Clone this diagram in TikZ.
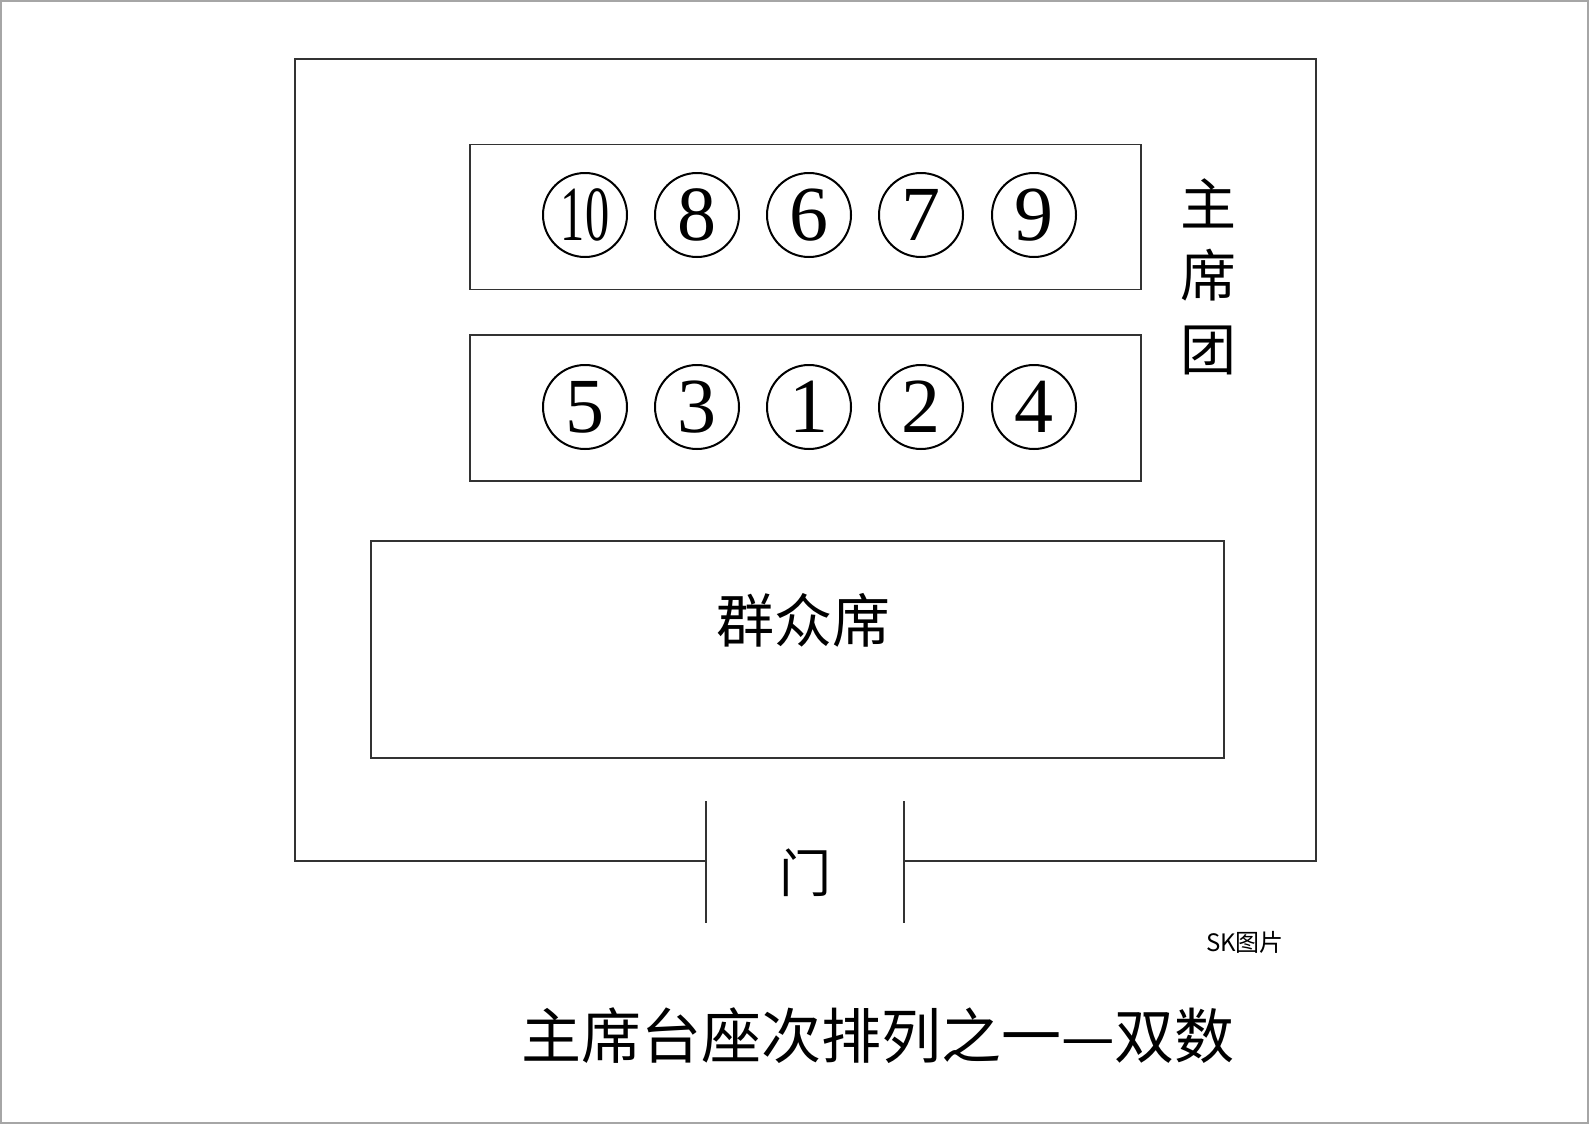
\documentclass[tikz,border=0pt]{standalone}
\usepackage{fontspec}
\setmainfont{Liberation Serif}
\newfontfamily\cjk{Noto Sans CJK SC}
\begin{document}
\begin{tikzpicture}[x=1pt,y=-1pt,
  boxline/.style={draw=black!80,line width=1.4pt},
  seat/.style={draw=black,line width=2pt,circle,minimum size=84pt,inner sep=0pt,font=\fontsize{78}{78}\selectfont},
  cjklabel/.style={font=\cjk\fontsize{56}{56}\selectfont,inner sep=0pt}]
\useasboundingbox (0,0) rectangle (1589,1124);
\draw[gray!70,line width=2pt] (1,1) rectangle (1588,1123);
% outer room
\coordinate (dl) at (706,861);
\coordinate (dr) at (904,861);
\draw[boxline] (dl) -- (295,861) -- (295,59) -- (1316,59) -- (1316,861) -- (dr);
\draw[boxline] (706,801) -- (706,923);
\draw[boxline] (904,801) -- (904,923);
\node[cjklabel,font=\cjk\fontsize{52}{52}\selectfont] (door) at (805,873) {门};
% seat rows
\node[boxline,minimum width=671pt,minimum height=145pt,inner sep=0pt] (row1) at (805.5,217) {};
\node[boxline,minimum width=671pt,minimum height=146pt,inner sep=0pt] (row2) at (805.5,408) {};
\node[seat] (s10) at (585,215) {\scalebox{0.62}[1]{10}};
\node[seat] (s8) at (697,215) {8};
\node[seat] (s6) at (809,215) {6};
\node[seat] (s7) at (921,215) {7};
\node[seat] (s9) at (1034,215) {9};
\node[seat] (s5) at (585,407) {5};
\node[seat] (s3) at (697,407) {3};
\node[seat] (s1) at (809,407) {1};
\node[seat] (s2) at (921,407) {2};
\node[seat] (s4) at (1034,407) {4};
% presidium label
\node[cjklabel] (zhu) at (1208,203) {主};
\node[cjklabel] (xi) at (1208,275) {席};
\node[cjklabel] (tuan) at (1208,350) {团};
% audience
\node[boxline,minimum width=853pt,minimum height=217pt,inner sep=0pt] (aud) at (797.5,649.5) {};
\node[cjklabel,font=\cjk\fontsize{58}{58}\selectfont] (audl) at (803,620) {群众席};
% watermark label
\node[inner sep=0pt,font=\cjk\fontsize{24}{24}\selectfont] (sk) at (1245,942) {SK图片};
% title
\node[inner sep=0pt,font=\cjk\fontsize{60}{60}\selectfont] (title) at (878,1036) {主席台座次排列之一—双数};
\end{tikzpicture}
\end{document}
